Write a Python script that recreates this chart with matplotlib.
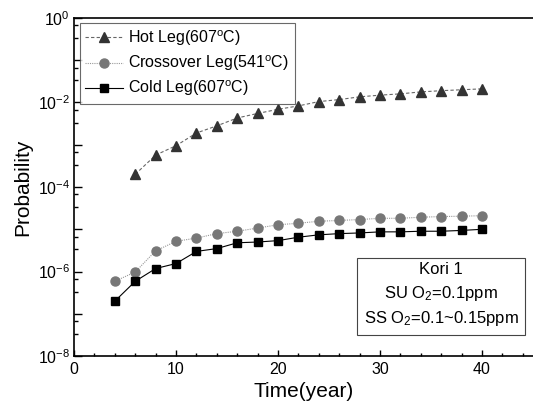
import matplotlib
matplotlib.use("Agg")
import matplotlib.pyplot as plt
from matplotlib.ticker import FixedLocator, MultipleLocator, FuncFormatter, NullFormatter
import numpy as np

plt.rcParams['font.family'] = ['Liberation Sans', 'DejaVu Sans']
plt.rcParams['mathtext.fontset'] = 'custom'
plt.rcParams['mathtext.rm'] = 'Liberation Sans'
plt.rcParams['mathtext.it'] = 'Liberation Sans:italic'
plt.rcParams['mathtext.bf'] = 'Liberation Sans:bold'

# Data
years_hot = [6, 8, 10, 12, 14, 16, 18, 20, 22, 24, 26, 28, 30, 32, 34, 36, 38, 40]
hot_leg = [2.0e-4, 5.7e-4, 9.5e-4, 1.9e-3, 2.8e-3, 4.3e-3, 5.5e-3, 6.9e-3, 8.3e-3,
           1.05e-2, 1.17e-2, 1.36e-2, 1.49e-2, 1.6e-2, 1.78e-2, 1.9e-2, 2.0e-2, 2.1e-2]

years = [4, 6, 8, 10, 12, 14, 16, 18, 20, 22, 24, 26, 28, 30, 32, 34, 36, 38, 40]
crossover_leg = [5.9e-7, 9.8e-7, 3.1e-6, 5.2e-6, 6.2e-6, 7.9e-6, 9.0e-6, 1.07e-5, 1.28e-5,
                 1.39e-5, 1.55e-5, 1.62e-5, 1.70e-5, 1.82e-5, 1.82e-5, 1.93e-5, 2.0e-5,
                 2.04e-5, 2.1e-5]
cold_leg = [2.0e-7, 5.9e-7, 1.18e-6, 1.55e-6, 3.0e-6, 3.5e-6, 4.8e-6, 5.0e-6, 5.4e-6,
            6.5e-6, 7.4e-6, 7.9e-6, 8.2e-6, 8.7e-6, 8.7e-6, 9.0e-6, 9.0e-6, 9.4e-6, 1.0e-5]

labels = ["Hot Leg(607$^\\mathrm{o}$C)", "Crossover Leg(541$^\\mathrm{o}$C)",
          "Cold Leg(607$^\\mathrm{o}$C)"]

fig = plt.figure(figsize=(5.33, 4.17), dpi=100)
ax = fig.add_axes([0.139, 0.146, 0.861, 0.811])

ax.plot(years_hot, hot_leg, linestyle=(0, (3, 2)), color="#666666", linewidth=0.8,
        marker="^", markersize=7, markerfacecolor="#333333", markeredgecolor="#333333",
        label=labels[0])
ax.plot(years, crossover_leg, linestyle=(0, (1, 1)), color="#999999", linewidth=0.8,
        marker="o", markersize=6.5, markerfacecolor="#777777", markeredgecolor="#777777",
        label=labels[1])
ax.plot(years, cold_leg, linestyle="-", color="black", linewidth=0.8,
        marker="s", markersize=5.8, markerfacecolor="black", markeredgecolor="black",
        label=labels[2])

ax.set_yscale("log")
ax.set_xlim(0, 45)
ax.set_ylim(1e-8, 1)

# x ticks
ax.xaxis.set_major_locator(MultipleLocator(10))
ax.xaxis.set_minor_locator(MultipleLocator(2))

# y ticks: one per decade, labels on even decades, two minor ticks per decade
decades = np.arange(-8, 1)
ax.yaxis.set_major_locator(FixedLocator(10.0 ** decades))
minor = []
for d in range(-7, 1):
    minor += [10.0 ** d / 3, 10.0 ** d * 2 / 3]
ax.yaxis.set_minor_locator(FixedLocator(minor))
ax.yaxis.set_minor_formatter(NullFormatter())


def fmt_y(v, pos):
    e = int(round(np.log10(v)))
    if e % 2:
        return ""
    return "10$^{\\mathrm{%d}}$" % e


ax.yaxis.set_major_formatter(FuncFormatter(fmt_y))

ax.tick_params(axis="both", which="both", direction="in", labelsize=11.5,
               top=False, right=False, width=1.0)
ax.tick_params(axis="y", which="major", length=6, pad=3)
ax.tick_params(axis="y", which="minor", length=3)
ax.tick_params(axis="x", which="major", length=4.5, pad=4)
ax.tick_params(axis="x", which="minor", length=2.5)
for s in ax.spines.values():
    s.set_linewidth(1.2)
ax.spines["right"].set_visible(False)

ax.set_xlabel("Time(year)", fontsize=15, labelpad=4)
ax.set_ylabel("Probability", fontsize=15, labelpad=4)

leg = ax.legend(loc="upper left", bbox_to_anchor=(0.005, 0.995), fontsize=11.5,
                frameon=True, fancybox=False, edgecolor="#444444",
                handlelength=2.4, handletextpad=0.3, borderpad=0.35,
                labelspacing=0.35, borderaxespad=0.2)
leg.get_frame().set_linewidth(0.8)

ax.text(0.80, 0.18, "Kori 1\nSU O$_2$=0.1ppm\nSS O$_2$=0.1~0.15ppm",
        transform=ax.transAxes, ha="center", va="center", fontsize=12,
        linespacing=1.45,
        bbox=dict(boxstyle="square,pad=0.4", facecolor="white",
                  edgecolor="#444444", linewidth=0.8))

fig.savefig("out.png", dpi=100)
